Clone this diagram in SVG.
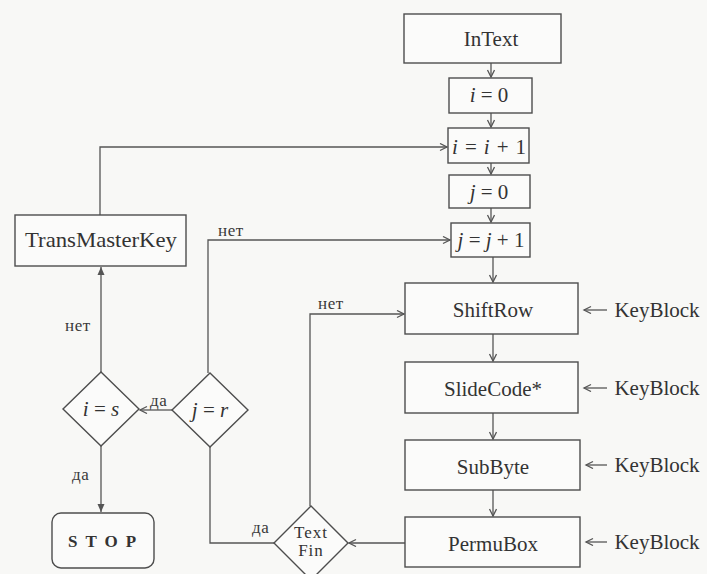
<svg xmlns="http://www.w3.org/2000/svg" width="707" height="574" viewBox="0 0 707 574">
<style>
.bg{fill:#f8f8f6}
.box{fill:#fbfbfa;stroke:#4d4d4d;stroke-width:1.4}
.ln{fill:none;stroke:#555;stroke-width:1.3}
.t{font-family:"Liberation Serif","Times New Roman",serif;fill:#333;text-anchor:middle}
.lbl{font-family:"Liberation Serif","Times New Roman",serif;fill:#3a3a3a;font-size:17px;letter-spacing:0.6px}
.m{font-family:"Liberation Serif","Times New Roman",serif;fill:#333;font-size:21px;text-anchor:middle}
.it{font-style:italic}
</style>
<defs>
<marker id="a" markerWidth="10" markerHeight="10" refX="8" refY="4" orient="auto" markerUnits="userSpaceOnUse">
<path d="M1,0.5 L8,4 L1,7.5" fill="none" stroke="#555" stroke-width="1.3"/>
</marker>
<marker id="f" markerWidth="10" markerHeight="10" refX="8" refY="4" orient="auto" markerUnits="userSpaceOnUse">
<path d="M0,0.5 L8,4 L0,7.5 Z" fill="#555"/>
</marker>
</defs>
<rect class="bg" x="0" y="0" width="707" height="574"/>

<g id="connectors">
<path class="ln" d="M491,63 V77" marker-end="url(#a)"/>
<path class="ln" d="M491,113 V127" marker-end="url(#a)"/>
<path class="ln" d="M491,163 V174" marker-end="url(#a)"/>
<path class="ln" d="M491,208 V222" marker-end="url(#a)"/>
<path class="ln" d="M493,257 V282" marker-end="url(#a)"/>
<path class="ln" d="M493,334 V361" marker-end="url(#a)"/>
<path class="ln" d="M493,413 V439" marker-end="url(#a)"/>
<path class="ln" d="M493,490 V516" marker-end="url(#a)"/>
<path class="ln" d="M607,310 H584" marker-end="url(#a)"/>
<path class="ln" d="M607,388 H584" marker-end="url(#a)"/>
<path class="ln" d="M607,465 H586" marker-end="url(#a)"/>
<path class="ln" d="M607,542 H586" marker-end="url(#a)"/>
<path class="ln" d="M100,215 V147 H447" marker-end="url(#a)"/>
<path class="ln" d="M208,373 V240 H450" marker-end="url(#a)"/>
<path class="ln" d="M101,372 V267" marker-end="url(#f)"/>
<path class="ln" d="M172,410 H140" marker-end="url(#a)"/>
<path class="ln" d="M101,446 V512" marker-end="url(#f)"/>
<path class="ln" d="M210,447 V543 H274"/>
<path class="ln" d="M405,543 H349" marker-end="url(#a)"/>
<path class="ln" d="M310,506 V314 H404" marker-end="url(#a)"/>
<text class="lbl" x="65" y="331">нет</text>
<text class="lbl" x="218" y="236">нет</text>
<text class="lbl" x="150" y="406">да</text>
<text class="lbl" x="72" y="480">да</text>
<text class="lbl" x="252" y="533">да</text>
<text class="lbl" x="318" y="309">нет</text>
</g>

<g id="n-intext">
<rect class="box" x="404" y="14" width="157" height="49"/>
<text class="t" x="491" y="46" font-size="21">InText</text>
</g>
<g id="n-i0">
<rect class="box" x="449" y="78" width="83" height="35"/>
<text class="m" x="489" y="102"><tspan class="it">i</tspan> = 0</text>
</g>
<g id="n-ii1">
<rect class="box" x="448" y="128" width="81" height="35"/>
<text class="m" x="489" y="154" textLength="74" lengthAdjust="spacing"><tspan class="it">i</tspan> = <tspan class="it">i</tspan>  + 1</text>
</g>
<g id="n-j0">
<rect class="box" x="449" y="175" width="81" height="33"/>
<text class="m" x="489" y="199"><tspan class="it">j</tspan> = 0</text>
</g>
<g id="n-jj1">
<rect class="box" x="451" y="223" width="79" height="34"/>
<text class="m" x="491" y="247"><tspan class="it">j</tspan> = <tspan class="it">j</tspan> + 1</text>
</g>
<g id="n-shiftrow">
<rect class="box" x="405" y="283" width="173" height="51"/>
<text class="t" x="493" y="317" font-size="21">ShiftRow</text>
</g>
<g id="n-slidecode">
<rect class="box" x="405" y="362" width="173" height="51"/>
<text class="t" x="493" y="396" font-size="21">SlideCode*</text>
</g>
<g id="n-subbyte">
<rect class="box" x="405" y="440" width="175" height="50"/>
<text class="t" x="493" y="474" font-size="21">SubByte</text>
</g>
<g id="n-permubox">
<rect class="box" x="405" y="517" width="175" height="50"/>
<text class="t" x="493" y="551" font-size="21">PermuBox</text>
</g>
<g id="n-keyblocks">
<text class="t" x="657" y="317" font-size="21">KeyBlock</text>
<text class="t" x="657" y="395" font-size="21">KeyBlock</text>
<text class="t" x="657" y="472" font-size="21">KeyBlock</text>
<text class="t" x="657" y="549" font-size="21">KeyBlock</text>
</g>
<g id="n-transmasterkey">
<rect class="box" x="15" y="215" width="171" height="51"/>
<text class="t" x="101" y="247" font-size="21" textLength="152" lengthAdjust="spacingAndGlyphs">TransMasterKey</text>
</g>
<g id="n-ieqs">
<polygon class="box" points="101,372 139,409 101,446 63,409"/>
<text class="m" x="101" y="416"><tspan class="it">i</tspan> = <tspan class="it">s</tspan></text>
</g>
<g id="n-jeqr">
<polygon class="box" points="210,373 248,410 210,447 172,410"/>
<text class="m" x="210" y="417"><tspan class="it">j</tspan> = <tspan class="it">r</tspan></text>
</g>
<g id="n-stop">
<rect class="box" x="52" y="513" width="102" height="55" rx="9"/>
<text class="t" x="106" y="547" font-size="17" font-weight="bold" letter-spacing="8">STOP</text>
</g>
<g id="n-textfin">
<polygon class="box" points="311,506 348,543 311,580 274,543"/>
<text class="t" x="311" y="538" font-size="17" letter-spacing="1">Text</text>
<text class="t" x="311" y="556" font-size="17" letter-spacing="1">Fin</text>
</g>
</svg>
